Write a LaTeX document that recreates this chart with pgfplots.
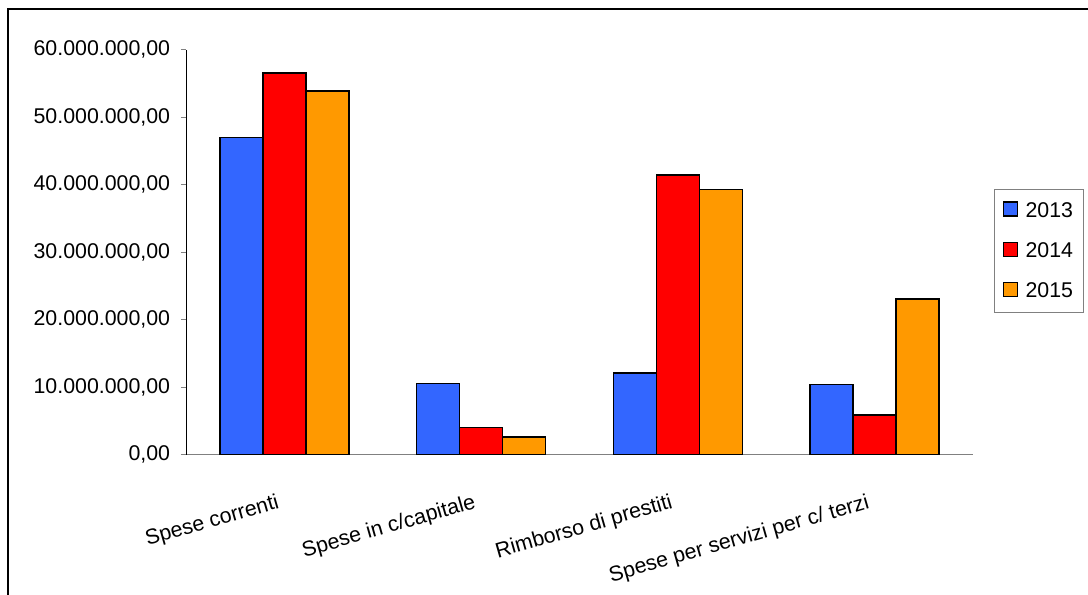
\documentclass[border=0pt]{standalone}
\usepackage{fontspec}
\setmainfont{Liberation Sans}
\usepackage{pgfplots}
\pgfplotsset{compat=1.18}
\definecolor{c13}{HTML}{3366FF}
\definecolor{c14}{HTML}{FF0000}
\definecolor{c15}{HTML}{FF9900}
\definecolor{axgray}{HTML}{808080}
\begin{document}
\begin{tikzpicture}[x=0.75pt,y=0.75pt]
\useasboundingbox (0,0) rectangle (1088,595);
\draw[line width=1.5pt] (8,586) rectangle (1110,-20);
\begin{axis}[
  at={(139.5pt,105.2pt)}, anchor=south west,
  scale only axis, width=590.25pt, height=303.9pt,
  ybar=0pt, bar width=32.25pt,
  xmin=-0.5, xmax=3.5, ymin=0, ymax=60000000,
  axis x line*=bottom, axis y line*=left,
  x axis line style={axgray, line width=0.8pt, -},
  y axis line style={black, line width=0.6pt, -},
  xtick={0,1,2,3},
  xticklabels={Spese correnti, Spese in c/capitale, Rimborso di prestiti, Spese per servizi per c/ terzi},
  major x tick style={draw=none},
  extra x ticks={-0.5,0.5,1.5,2.5,3.5},
  extra x tick labels={},
  extra x tick style={tick style={axgray, line width=0.8pt}, major tick length=3.75pt, tick align=outside},
  ytick={0,10000000,20000000,30000000,40000000,50000000,60000000},
  yticklabels={{0,00},{10.000.000,00},{20.000.000,00},{30.000.000,00},{40.000.000,00},{50.000.000,00},{60.000.000,00}},
  scaled y ticks=false,
  y tick style={axgray, line width=0.8pt},
  tick align=outside, major tick length=3.75pt,
  yticklabel style={font=\fontsize{16}{19}\selectfont, anchor=east, inner sep=0pt, xshift=-8pt},
  xticklabel style={font=\fontsize{16}{19}\selectfont, rotate=16, anchor=north east, inner sep=0pt, yshift=-22pt, xshift=-13pt},
  legend style={at={(1.0267,0.6557)}, anchor=north west, draw=axgray, line width=0.8pt, fill=white,
    font=\fontsize{16}{19}\selectfont, cells={anchor=west}, row sep=13.5pt, column sep=4pt, inner xsep=6pt, inner ysep=7.5pt},
  legend image code/.code={\draw[#1, line width=0.8pt] (0pt,-4pt) rectangle (10.5pt,6.5pt);},
]
\addplot[fill=c13, draw=black, line width=1.2pt] coordinates {(0,47000000) (1,10570000) (2,12100000) (3,10370000)};
\addplot[fill=c14, draw=black, line width=1.2pt] coordinates {(0,56500000) (1,4060000) (2,41420000) (3,5920000)};
\addplot[fill=c15, draw=black, line width=1.2pt] coordinates {(0,53860000) (1,2620000) (2,39300000) (3,23060000)};
\legend{2013,2014,2015}
\end{axis}
\end{tikzpicture}
\end{document}
